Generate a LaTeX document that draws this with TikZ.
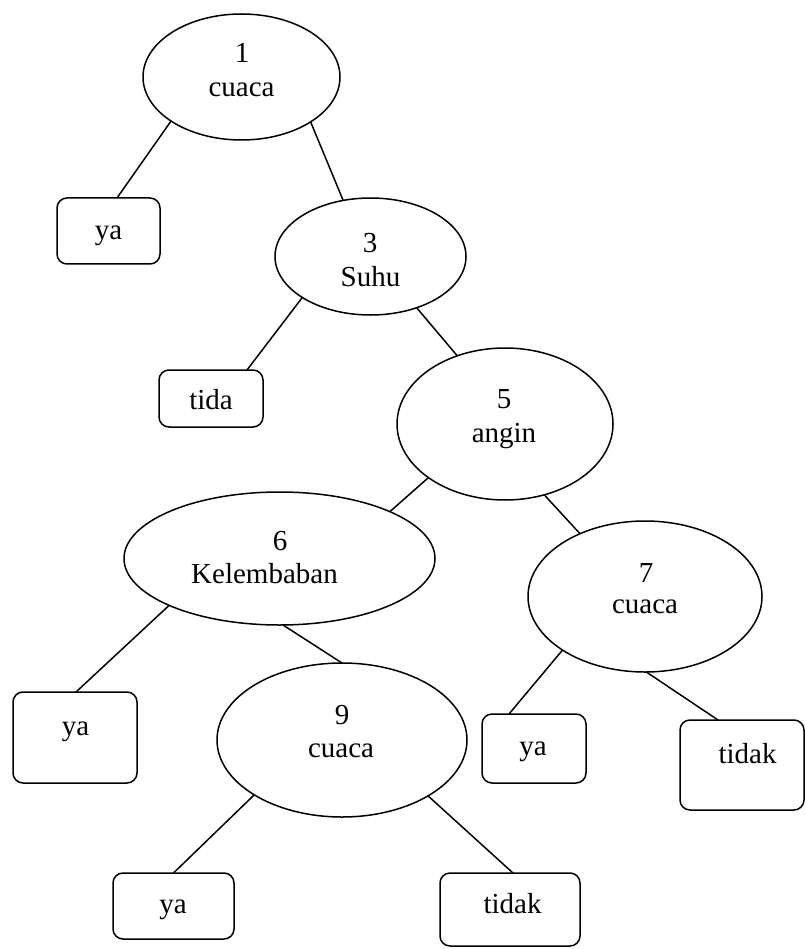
\documentclass[tikz,border=0pt]{standalone}
\usepackage{fontspec}
\setmainfont{Liberation Serif}
\usetikzlibrary{shapes.geometric,calc}
\tikzset{
  ell/.style={draw, shape=ellipse, line width=1.5pt, inner sep=0pt, outer sep=0pt},
  leaf/.style={draw, rectangle, rounded corners=10pt, line width=1.5pt, inner sep=0pt, outer sep=0pt},
  txt/.style={anchor=base, inner sep=0pt, font=\fontsize{29}{34}\selectfont},
  edge/.style={line width=1.5pt}
}
\begin{document}
\begin{tikzpicture}[x=1pt, y=-1pt]
\useasboundingbox (0,0) rectangle (805,949);
% ellipses
\node[ell, minimum width=197pt, minimum height=126pt] (e1) at (241.5,77) {};
\node[ell, minimum width=191pt, minimum height=117pt] (e3) at (370.5,256.5) {};
\node[ell, minimum width=216pt, minimum height=152pt] (e5) at (505,424) {};
\node[ell, minimum width=311pt, minimum height=133pt] (e6) at (279.5,558.5) {};
\node[ell, minimum width=234pt, minimum height=151pt] (e7) at (645,596.5) {};
\node[ell, minimum width=250pt, minimum height=154pt] (e9) at (342,740) {};
% leaves
\node[leaf, minimum width=103pt, minimum height=66pt] (b1) at (108.5,231) {};
\node[leaf, minimum width=104pt, minimum height=57pt] (b2) at (211,398.5) {};
\node[leaf, minimum width=124pt, minimum height=91pt] (b3) at (75,737.5) {};
\node[leaf, minimum width=104pt, minimum height=69pt] (b4) at (534,748.5) {};
\node[leaf, minimum width=124pt, minimum height=90pt] (b5) at (742,765) {};
\node[leaf, minimum width=121pt, minimum height=66pt] (b6) at (173.5,906) {};
\node[leaf, minimum width=140pt, minimum height=73pt] (b7) at (510,909.5) {};
% texts
\node[txt] (t1a) at (242,63) {1};
\node[txt] (t1b) at (241.5,97) {cuaca};
\node[txt] (t3a) at (370,253) {3};
\node[txt] (t3b) at (370.5,287) {Suhu};
\node[txt] (t5a) at (504,408) {5};
\node[txt] (t5b) at (504,442) {angin};
\node[txt] (t6a) at (280,550) {6};
\node[txt] (t6b) at (264.5,583) {Kelembaban};
\node[txt] (t7a) at (646,582) {7};
\node[txt] (t7b) at (645,613) {cuaca};
\node[txt] (t9a) at (342,724) {9};
\node[txt] (t9b) at (341,757) {cuaca};
\node[txt] (tb1) at (108.5,240) {ya};
\node[txt] (tb2) at (211,409) {tida};
\node[txt] (tb3) at (75.5,735) {ya};
\node[txt] (tb4) at (533,755) {ya};
\node[txt] (tb5) at (747.5,763) {tidak};
\node[txt] (tb6) at (173,913) {ya};
\node[txt] (tb7) at (512.5,913) {tidak};
% connectors
\draw[edge] (e1.212.7) -- ($(b1.north)+(8.5,0)$);
\draw[edge] (e1.327.3) -- (e3.116.8);
\draw[edge] (e3.211.6) -- ($(b2.north)+(36,0)$);
\draw[edge] (e3.312.6) -- (e5.125.4);
\draw[edge] (e5.215.7) -- (e6.23.7);
\draw[edge] (e5.299.9) -- (e7.136.1);
\draw[edge] (e6.203.5) -- ($(b3.north)+(1,0)$);
\draw[edge] (e6.273) -- (e9.90);
\draw[edge] (e7.213.8) -- ($(b4.north)+(-25,0)$);
\draw[edge] (e7.271.5) -- ($(b5.north)+(-24,0)$);
\draw[edge] (e9.212.2) -- (b6.north);
\draw[edge] (e9.327.5) -- ($(b7.north)+(3,0)$);
\end{tikzpicture}
\end{document}
